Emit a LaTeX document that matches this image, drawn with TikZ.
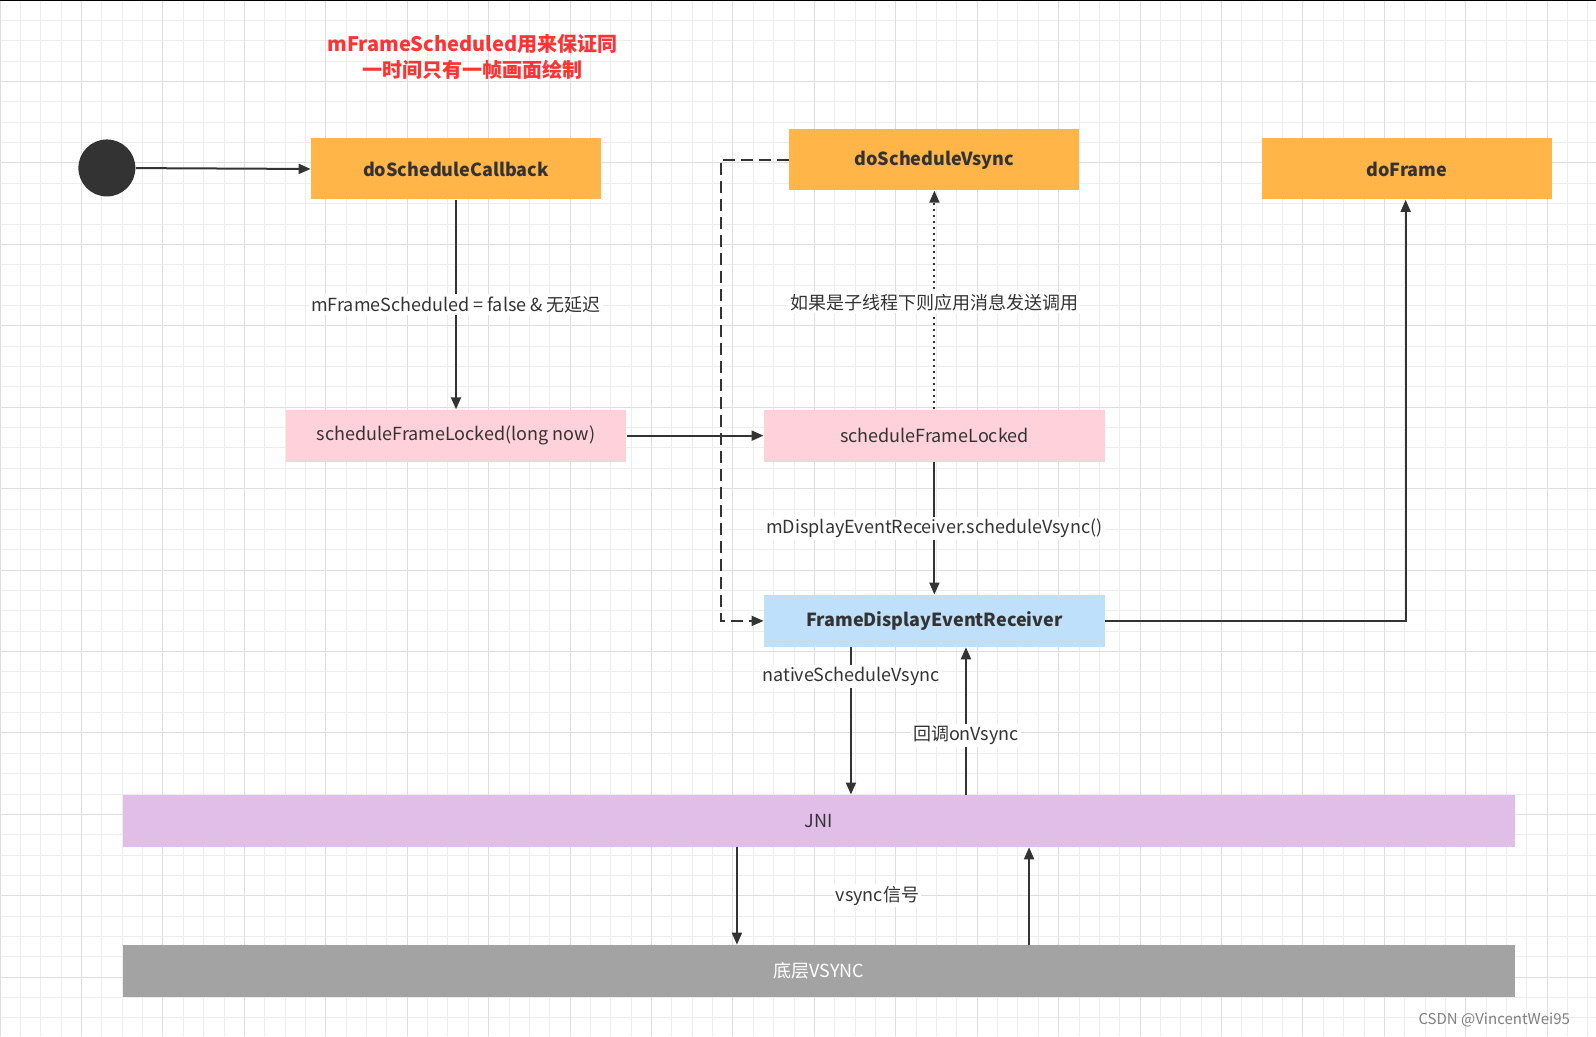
\documentclass[tikz,border=0pt]{standalone}
\usepackage{fontspec}
\setmainfont{Noto Sans CJK SC}
\usetikzlibrary{arrows.meta}
\definecolor{org}{HTML}{FFB547}
\definecolor{pnk}{HTML}{FFD1DA}
\definecolor{blu}{HTML}{BEE0FA}
\definecolor{vio}{HTML}{E1BEE7}
\definecolor{gry}{HTML}{A3A3A3}
\definecolor{txt}{HTML}{333333}
\begin{document}
\begin{tikzpicture}[x=0.509pt,y=-0.509pt,
  box/.style={draw=none,minimum height=26pt,inner sep=0pt,text=txt,font=\fontsize{9}{10}\selectfont},
  conn/.style={draw=txt,line width=1pt,-{Triangle[length=6pt,width=5pt]}},
  lbl/.style={fill=white,inner sep=1pt,text=txt,font=\fontsize{9}{10}\selectfont}]
\useasboundingbox (0,0) rectangle (1568,1018);
\fill[white] (0,0) rectangle (1568,1018);
\foreach \i in {0,20,...,1568} \draw[black!7,line width=0.4pt] (\i,0) -- (\i,1018);
\foreach \i in {0,20,...,1018} \draw[black!7,line width=0.4pt] (0,\i) -- (1568,\i);
\foreach \i in {0,80,...,1568} \draw[black!13,line width=0.5pt] (\i,0) -- (\i,1018);
\foreach \i in {0,80,...,1018} \draw[black!13,line width=0.5pt] (0,\i) -- (1568,\i);
\draw[black,line width=1pt] (0,0) -- (1568,0);
\node[circle,fill=txt,minimum size=28.5pt,inner sep=0pt] (start) at (105,165) {};
\node[box,fill=org,minimum width=145pt,minimum height=30.5pt,font=\fontsize{9}{10}\selectfont\bfseries] (dsc) at (448,166) {doScheduleCallback};
\node[box,fill=org,minimum width=145pt,minimum height=30.5pt,font=\fontsize{9}{10}\selectfont\bfseries] (dsv) at (918,157) {doScheduleVsync};
\node[box,fill=org,minimum width=145pt,minimum height=30.5pt,font=\fontsize{9}{10}\selectfont\bfseries] (df) at (1382,166) {doFrame};
\node[box,fill=pnk,minimum width=170.5pt] (sfl1) at (448,428) {scheduleFrameLocked(long now)};
\node[box,fill=pnk,minimum width=170.5pt] (sfl2) at (918,428) {scheduleFrameLocked};
\node[box,fill=blu,minimum width=170.5pt,font=\fontsize{9}{10}\selectfont\bfseries] (fder) at (918,610) {FrameDisplayEventReceiver};
\node[box,fill=vio,minimum width=696pt] (jni) at (804.5,806.5) {JNI};
\node[box,fill=gry,minimum width=696pt,text=white] (vs) at (804.5,954) {底层VSYNC};
\node[text={rgb,255:red,255;green,51;blue,51},font=\fontsize{10}{13}\selectfont\bfseries,align=center] (title) at (464,56) {mFrameScheduled用来保证同\\一时间只有一帧画面绘制};
\node[text=black!50,font=\fontsize{7.5}{9}\selectfont] (wm) at (1468,1002) {CSDN @VincentWei95};
\draw[conn] (start) -- (dsc.west);
\draw[conn] (dsc) -- node[lbl]{mFrameScheduled = false \& 无延迟} (sfl1);
\draw[conn] (sfl1) -- (sfl2);
\draw[conn,dash pattern=on 6pt off 3pt] (dsv.west) -- (708,157) -- (708,610) -- (fder.west);
\draw[conn,dotted] (sfl2) -- node[lbl,pos=0.49]{如果是子线程下则应用消息发送调用} (dsv);
\draw[conn] (sfl2) -- node[lbl]{mDisplayEventReceiver.scheduleVsync()} (fder);
\draw[conn] (fder.east) -- (1381,610) -- (df.south -| 1381,0);
\draw[conn] (fder.south -| 836,0) -- node[lbl,pos=0.2]{nativeScheduleVsync} (jni.north -| 836,0);
\draw[conn] (jni.north -| 949,0) -- node[lbl,pos=0.4]{回调onVsync} (fder.south -| 949,0);
\draw[conn] (jni.south -| 724,0) -- (vs.north -| 724,0);
\draw[conn] (vs.north -| 1011,0) -- (jni.south -| 1011,0);
\node[lbl] (vl) at (862,880) {vsync信号};
\end{tikzpicture}
\end{document}
